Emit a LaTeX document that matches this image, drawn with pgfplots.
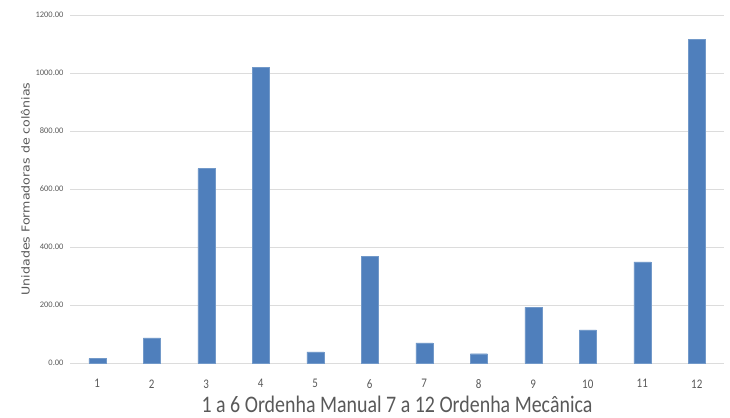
\documentclass[border=0pt]{standalone}
\usepackage{pgfplots}
\pgfplotsset{compat=1.18}
\usepackage{fontspec}
\usepackage{graphicx}
\setmainfont{Carlito}
\newfontfamily\labelfont{DejaVu Sans}
\definecolor{barblue}{HTML}{4F7FBC}
\definecolor{gridgray}{HTML}{DCDCDC}
\definecolor{txtgray}{HTML}{595959}
\begin{document}
\begin{tikzpicture}[x=1bp,y=1bp]
\begin{axis}[
    scale only axis,
    width=654bp, height=348bp,
    ybar, bar width=17bp,
    xmin=0.5, xmax=12.5,
    ymin=0, ymax=1200,
    xtick=data,
    ytick={0,200,...,1200},
    yticklabel={\pgfmathprintnumber[fixed,fixed zerofill,precision=2,use period,1000 sep={}]{\tick}},
    /pgf/number format/assume math mode=true,
    ymajorgrids=true,
    grid style={gridgray, line width=0.8pt},
    axis x line*=bottom,
    axis y line*=left,
    x axis line style={draw=gridgray, line width=0.8pt, -},
    y axis line style={draw=none},
    major tick length=0pt,
    tick label style={txtgray},
    yticklabel style={font=\fontsize{8.5}{9}\selectfont, xshift=-3bp},
    xticklabel style={font=\fontsize{11}{12}\selectfont, yshift=-13bp},
    xticklabel={\scalebox{1}[1.2]{\pgfmathprintnumber{\tick}}},
    ylabel={\labelfont\scalebox{1.15}[1]{Unidades Formadoras de colônias}},
    ylabel style={txtgray, font=\fontsize{11}{12}\selectfont, yshift=-1bp},
    xlabel={\scalebox{1}[1.19]{1 a 6 Ordenha Manual 7 a 12 Ordenha Mecânica}},
    xlabel style={txtgray, font=\fontsize{20}{22}\selectfont, text depth=0pt, inner sep=1bp, yshift=-3bp},
    clip=false,
]
\addplot[fill=barblue, draw=barblue!80!white, line width=0.4pt] coordinates {
    (1,15) (2,87) (3,670) (4,1020) (5,38) (6,367)
    (7,69) (8,32) (9,192) (10,114) (11,349) (12,1117)
};
\path (rel axis cs:0,0) coordinate (sw) (rel axis cs:1,1) coordinate (ne);
\end{axis}
\pgfresetboundingbox
\path ([xshift=-70bp,yshift=-55bp]sw) rectangle ([xshift=6bp,yshift=15bp]ne);
\end{tikzpicture}
\end{document}
